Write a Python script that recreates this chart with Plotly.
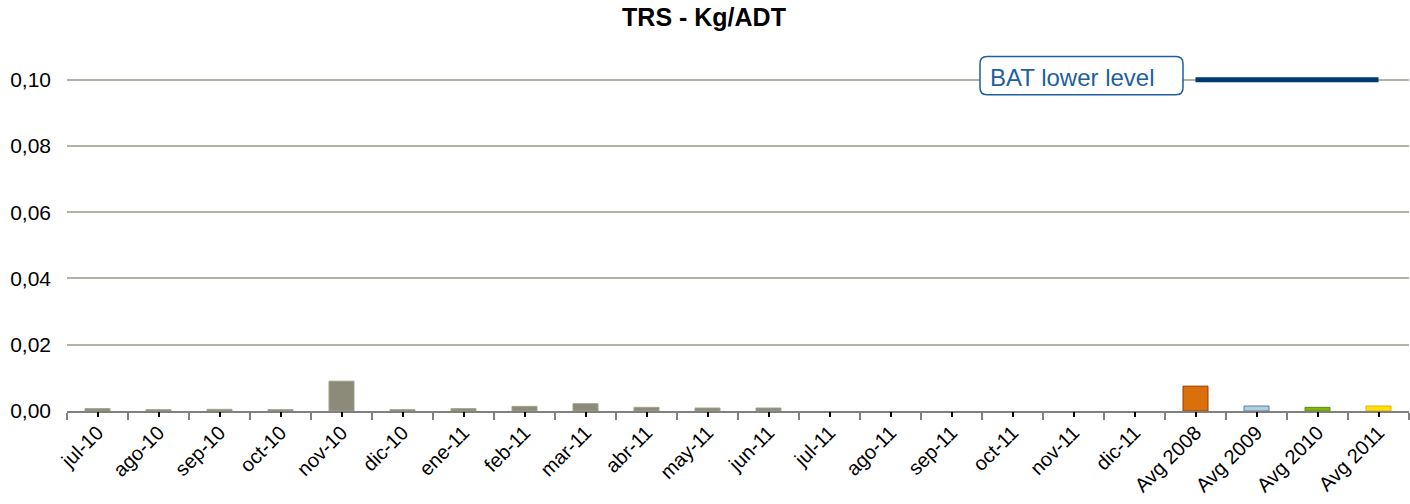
import plotly.graph_objects as go

categories = ["jul-10", "ago-10", "sep-10", "oct-10", "nov-10", "dic-10", "ene-11", "feb-11",
              "mar-11", "abr-11", "may-11", "jun-11", "jul-11", "ago-11", "sep-11", "oct-11",
              "nov-11", "dic-11", "Avg 2008", "Avg 2009", "Avg 2010", "Avg 2011"]
values = [0.0007, 0.0004, 0.0005, 0.0004, 0.0090, 0.0004, 0.0007, 0.0014,
          0.0022, 0.0011, 0.0009, 0.0009, None, None, None, None,
          None, None, 0.0075, 0.0015, 0.0011, 0.0015]
bar_colors = ["#8C8B7A"] * 18 + ["#D8700C", "#B0D0E2", "#80B80A", "#FFE200"]
line_colors = ["#A09F8E"] * 18 + ["#9A3A06", "#5A7AA0", "#5E8A08", "#E8B000"]
bat_categories = ["Avg 2008", "Avg 2011"]
bat_level = [0.10, 0.10]
y_ticks = [0, 0.02, 0.04, 0.06, 0.08, 0.10]
y_max = 0.102

FONT = "Liberation Sans, Arial, sans-serif"

# plot area in pixels (0 at y=411, 0.10 at y=80)
L, R, B = 67, 1409, 411
T = B - (B - 80) * y_max / 0.10


def px(x, y):
    return (x - L) / (R - L), (B - y) / (B - T)


fig = go.Figure()
fig.add_trace(go.Bar(
    x=categories, y=values,
    marker=dict(color=bar_colors, line=dict(color=line_colors, width=1)),
    width=0.41, showlegend=False, hoverinfo="x+y",
))
fig.add_trace(go.Scatter(
    x=bat_categories, y=bat_level, mode="lines", cliponaxis=False,
    line=dict(color="#003A70", width=5), showlegend=False,
))
fig.add_trace(go.Scatter(
    x=categories, y=[None] * len(categories), xaxis="x2", showlegend=False,
    hoverinfo="skip",
))

fig.update_layout(
    width=1410, height=504,
    margin=dict(l=L, r=1410 - R, t=T, b=504 - B),
    paper_bgcolor="white", plot_bgcolor="white",
    separators=",.",
    title=dict(text="<b>TRS - Kg/ADT</b>", x=0.4993, xanchor="center", y=0.966, yanchor="middle",
               font=dict(family=FONT, size=25, color="#000000")),
    xaxis=dict(
        type="category", categoryorder="array", categoryarray=categories,
        showline=True, linecolor="#808080", linewidth=2,
        ticks="outside", tickson="boundaries", ticklen=7, tickcolor="#808080", tickwidth=2,
        tickangle=-45, tickfont=dict(family=FONT, size=20, color="#000000"),
        showgrid=False, range=[-0.5, 21.5],
    ),
    xaxis2=dict(
        type="category", categoryorder="array", categoryarray=categories,
        overlaying="x", anchor="y", side="bottom", range=[-0.5, 21.5],
        showline=False, ticks="outside", ticklen=5, tickcolor="#000000", tickwidth=2,
        showticklabels=False, showgrid=False,
    ),
    yaxis=dict(
        range=[0, y_max], tickvals=y_ticks, tickformat=".2f",
        showgrid=True, gridcolor="#B4B2A6", gridwidth=2,
        zeroline=False, showline=False,
        ticks="", ticklen=0, ticklabelstandoff=15,
        tickfont=dict(family=FONT, size=21, color="#000000"),
    ),
    bargap=0.59,
)

# rounded box for the label
x0, y0, x1, y1, r = 980, 57, 1183, 95, 7
rx = r / (R - L)
ry = r / (B - T)
ax0, ay1 = px(x0, y0)
ax1, ay0 = px(x1, y1)
path = (f"M {ax0 + rx} {ay1} L {ax1 - rx} {ay1} Q {ax1} {ay1} {ax1} {ay1 - ry} "
        f"L {ax1} {ay0 + ry} Q {ax1} {ay0} {ax1 - rx} {ay0} "
        f"L {ax0 + rx} {ay0} Q {ax0} {ay0} {ax0} {ay0 + ry} "
        f"L {ax0} {ay1 - ry} Q {ax0} {ay1} {ax0 + rx} {ay1} Z")
fig.add_shape(type="path", path=path, xref="paper", yref="paper",
              line=dict(color="#1F5FA0", width=1.5), fillcolor="white", layer="above")

tx, ty = px(988, 78)
fig.add_annotation(
    xref="paper", yref="paper", x=tx, y=ty,
    xanchor="left", yanchor="middle",
    text="BAT lower level", showarrow=False, align="left",
    font=dict(family=FONT, size=24, color="#1F5FA0"),
)

fig.write_html("out.html", config={"displayModeBar": False},
               post_script="document.body.style.margin='0';")
